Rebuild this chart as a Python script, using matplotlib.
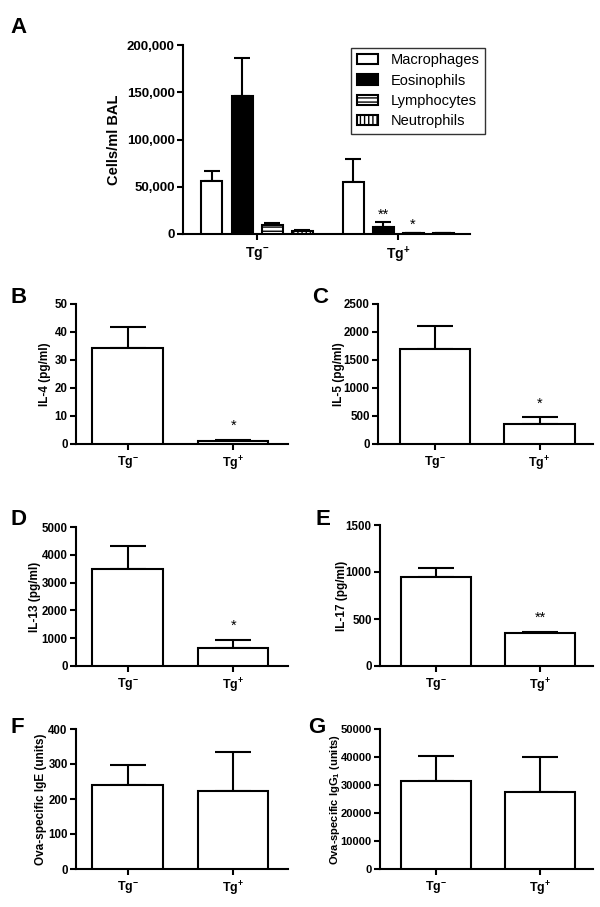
import matplotlib
matplotlib.use("Agg")
import matplotlib.pyplot as plt
from matplotlib.ticker import FuncFormatter
from matplotlib.patches import Patch
import numpy as np

plt.rcParams['font.family'] = ['Liberation Sans', 'DejaVu Sans']
plt.rcParams['font.weight'] = 'bold'
plt.rcParams['mathtext.fontset'] = 'custom'
plt.rcParams['mathtext.rm'] = 'Liberation Sans:bold'
plt.rcParams['mathtext.bf'] = 'Liberation Sans:bold'
plt.rcParams['mathtext.it'] = 'Liberation Sans:bold'
plt.rcParams['hatch.linewidth'] = 1.0

# ---------------- data ----------------
groups = [r'Tg$^{-}$', r'Tg$^{+}$']
cell_types = ['Macrophages', 'Eosinophils', 'Lymphocytes', 'Neutrophils']
cells_mean = {
    'Macrophages': [56000, 54700],
    'Eosinophils': [146000, 7700],
    'Lymphocytes': [9200, 1000],
    'Neutrophils': [3300, 600],
}
cells_err = {
    'Macrophages': [10500, 24300],
    'Eosinophils': [40500, 4700],
    'Lymphocytes': [2800, 400],
    'Neutrophils': [500, 200],
}
cells_sig = {'Eosinophils': [None, '**'], 'Lymphocytes': [None, '*']}

il4_mean = [34.3, 1.2]
il4_err = [7.6, 0.4]
il4_sig = [None, '*']

il5_mean = [1700, 350]
il5_err = [400, 125]
il5_sig = [None, '*']

il13_mean = [3480, 650]
il13_err = [850, 300]
il13_sig = [None, '*']

il17_mean = [950, 355]
il17_err = [90, 10]
il17_sig = [None, '**']

ige_mean = [240, 223]
ige_err = [57, 110]
ige_sig = [None, None]

igg1_mean = [31500, 27500]
igg1_err = [9000, 12500]
igg1_sig = [None, None]

fig = plt.figure(figsize=(6.0, 9.07), dpi=100)

LW = 1.5

def style_axes(ax, tick_fs):
    for s in ['top', 'right']:
        ax.spines[s].set_visible(False)
    for s in ['left', 'bottom']:
        ax.spines[s].set_linewidth(LW)
    ax.tick_params(axis='both', width=LW, length=4, labelsize=tick_fs, pad=2)
    ax.tick_params(axis='x', pad=4)
    for lab in ax.get_yticklabels() + ax.get_xticklabels():
        lab.set_fontweight('bold')

# ---------------- Panel A ----------------
W, H = 600.0, 907.0
def rect(l, r, t, b):
    return [l / W, 1 - b / H, (r - l) / W, (b - t) / H]

axA = fig.add_axes(rect(183, 470, 45, 234))
x = np.arange(len(groups))
bw = 0.149
step = 0.213
styles = {
    'Macrophages': dict(facecolor='white', hatch=None),
    'Eosinophils': dict(facecolor='black', hatch=None),
    'Lymphocytes': dict(facecolor='white', hatch='----'),
    'Neutrophils': dict(facecolor='white', hatch='||||'),
}
handles = []
for i, ct in enumerate(cell_types):
    pos = x + (i - 1.5) * step
    st = styles[ct]
    axA.bar(pos, cells_mean[ct], width=bw, facecolor=st['facecolor'],
            edgecolor='black', linewidth=LW, hatch=st['hatch'], zorder=3)
    axA.errorbar(pos, cells_mean[ct], yerr=[np.zeros(len(pos)), cells_err[ct]],
                 fmt='none', ecolor='black', elinewidth=LW, capsize=6,
                 capthick=LW, zorder=2)
    if ct in cells_sig:
        for j, s in enumerate(cells_sig[ct]):
            if s:
                axA.text(pos[j], cells_mean[ct][j] + cells_err[ct][j] + 1000, s,
                         ha='center', va='bottom', fontsize=10.5, fontweight='normal')
    handles.append(Patch(facecolor=st['facecolor'], edgecolor='black',
                         linewidth=LW, hatch=st['hatch'], label=ct))
axA.set_xlim(-0.525, 1.51)
axA.set_ylim(0, 200000)
axA.set_yticks([0, 50000, 100000, 150000, 200000])
axA.yaxis.set_major_formatter(FuncFormatter(lambda v, p: '{:,.0f}'.format(v)))
axA.set_xticks(x)
axA.set_xticklabels(groups)
style_axes(axA, 9.5)
axA.tick_params(axis='x', labelsize=10)
axA.set_ylabel('Cells/ml BAL', fontsize=10.5, fontweight='bold')
axA.yaxis.set_label_coords(-0.216, 0.5)
leg = axA.legend(handles=handles, loc='upper left', bbox_to_anchor=(0.585, 0.986),
                 fontsize=10.5, frameon=True, fancybox=False, handlelength=1.45,
                 handleheight=0.7, labelspacing=0.42, borderpad=0.4,
                 handletextpad=0.85, borderaxespad=0)
leg.get_frame().set_edgecolor('black')
leg.get_frame().set_linewidth(1.0)
for t in leg.get_texts():
    t.set_fontweight('normal')

# ---------------- small panels ----------------
def small_panel(r, mean, err, sig, ylim, yticks, ylabel, label_x, xlim,
                ylabel_fs=8.5, tick_fs=8.3):
    ax = fig.add_axes(rect(*r))
    xs = np.arange(len(groups))
    ax.bar(xs, mean, width=0.67, facecolor='white', edgecolor='black',
           linewidth=LW, zorder=3)
    ax.errorbar(xs, mean, yerr=[np.zeros(len(xs)), err], fmt='none',
                ecolor='black', elinewidth=LW, capsize=13, capthick=LW, zorder=2)
    for j, s in enumerate(sig):
        if s:
            ax.text(xs[j], mean[j] + err[j] + (ylim[1] * 0.05), s, ha='center',
                    va='bottom', fontsize=10.5, fontweight='normal')
    ax.set_xlim(*xlim)
    ax.set_ylim(*ylim)
    ax.set_yticks(yticks)
    ax.set_xticks(xs)
    ax.set_xticklabels(groups)
    style_axes(ax, tick_fs)
    ax.tick_params(axis='x', labelsize=9)
    ax.set_ylabel(ylabel, fontsize=ylabel_fs, fontweight='bold')
    ax.yaxis.set_label_coords(label_x, 0.5)
    return ax

xl_left = (-0.49, 1.52)
xl_right = (-0.54, 1.51)

small_panel((76, 288, 304, 444), il4_mean, il4_err, il4_sig, (0, 50),
            [0, 10, 20, 30, 40, 50], 'IL-4 (pg/ml)', -0.118, xl_left)
small_panel((378, 593, 304, 444), il5_mean, il5_err, il5_sig, (0, 2500),
            [0, 500, 1000, 1500, 2000, 2500], 'IL-5 (pg/ml)', -0.153, xl_right)
small_panel((76, 288, 527, 666), il13_mean, il13_err, il13_sig, (0, 5000),
            [0, 1000, 2000, 3000, 4000, 5000], 'IL-13 (pg/ml)', -0.165, xl_left)
small_panel((380, 593, 525, 666), il17_mean, il17_err, il17_sig, (0, 1500),
            [0, 500, 1000, 1500], 'IL-17 (pg/ml)', -0.150, xl_right)
small_panel((76, 288, 729, 869), ige_mean, ige_err, ige_sig, (0, 400),
            [0, 100, 200, 300, 400], 'Ova-specific IgE (units)', -0.137, xl_left)
small_panel((380, 593, 729, 869), igg1_mean, igg1_err, igg1_sig, (0, 50000),
            [0, 10000, 20000, 30000, 40000, 50000],
            r'Ova-specific IgG$_{\mathbf{1}}$ (units)', -0.18, xl_right,
            ylabel_fs=8.0, tick_fs=8.0)

# ---------------- panel letters ----------------
letters = [('A', 10, 33), ('B', 10, 303), ('C', 312, 303), ('D', 11, 525),
           ('E', 316, 525), ('F', 11, 733), ('G', 308, 733)]
for t, px, py in letters:
    fig.text(px / W, 1 - py / H, t, fontsize=16, fontweight='bold',
             ha='left', va='baseline')

fig.savefig('out.png', dpi=100)
